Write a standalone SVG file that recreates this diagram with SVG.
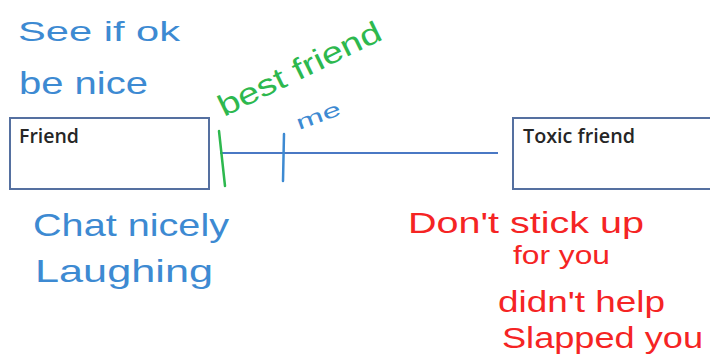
<svg xmlns="http://www.w3.org/2000/svg" width="710" height="361" viewBox="0 0 710 361">
  <style>
    .box { fill: #ffffff; stroke: #5570a0; stroke-width: 2; }
    .label { font-family: "Open Sans", "Liberation Sans", sans-serif; font-size: 19px; font-weight: 600; fill: #262626; }
    .hand { font-family: "Liberation Sans", "DejaVu Sans", sans-serif; font-weight: normal; }
    .blue { fill: #3d8ad2; }
    .green { fill: #2db84e; }
    .red { fill: #f52424; }
  </style>
  <rect width="710" height="361" fill="#ffffff"/>

  <g id="node-friend">
    <rect class="box" x="10" y="118" width="199" height="71"/>
    <text class="label" x="19" y="143" textLength="60" lengthAdjust="spacingAndGlyphs">Friend</text>
  </g>

  <g id="node-toxic-friend">
    <rect class="box" x="513" y="118" width="205" height="71"/>
    <text class="label" x="523" y="143" textLength="112" lengthAdjust="spacingAndGlyphs">Toxic friend</text>
  </g>

  <g id="connectors">
    <line x1="220" y1="153" x2="498" y2="153" stroke="#4a78c4" stroke-width="2"/>
    <line x1="219" y1="131" x2="225" y2="186" stroke="#2db84e" stroke-width="2.5" stroke-linecap="round"/>
    <line x1="284" y1="134" x2="283" y2="181" stroke="#3d8ad2" stroke-width="2.5" stroke-linecap="round"/>
  </g>

  <g id="annotations">
    <text class="hand blue" x="18" y="41" font-size="28" textLength="162" lengthAdjust="spacingAndGlyphs">See if ok</text>
    <text class="hand blue" x="19" y="94" font-size="32" textLength="129" lengthAdjust="spacingAndGlyphs">be nice</text>
    <text class="hand green" x="224" y="117" font-size="30" textLength="178" lengthAdjust="spacingAndGlyphs" transform="rotate(-26 224 117)">best friend</text>
    <text class="hand blue" x="299" y="130" font-size="20" textLength="46" lengthAdjust="spacingAndGlyphs" transform="rotate(-20 299 130)">me</text>
    <text class="hand blue" x="33" y="236" font-size="32" textLength="196" lengthAdjust="spacingAndGlyphs">Chat nicely</text>
    <text class="hand blue" x="35" y="282" font-size="32" textLength="178" lengthAdjust="spacingAndGlyphs">Laughing</text>
    <text class="hand red" x="408" y="233" font-size="30" textLength="236" lengthAdjust="spacingAndGlyphs">Don't stick up</text>
    <text class="hand red" x="513" y="264" font-size="26" textLength="97" lengthAdjust="spacingAndGlyphs">for you</text>
    <text class="hand red" x="498" y="312" font-size="30" textLength="167" lengthAdjust="spacingAndGlyphs">didn't help</text>
    <text class="hand red" x="502" y="348" font-size="30" textLength="201" lengthAdjust="spacingAndGlyphs">Slapped you</text>
  </g>
</svg>
